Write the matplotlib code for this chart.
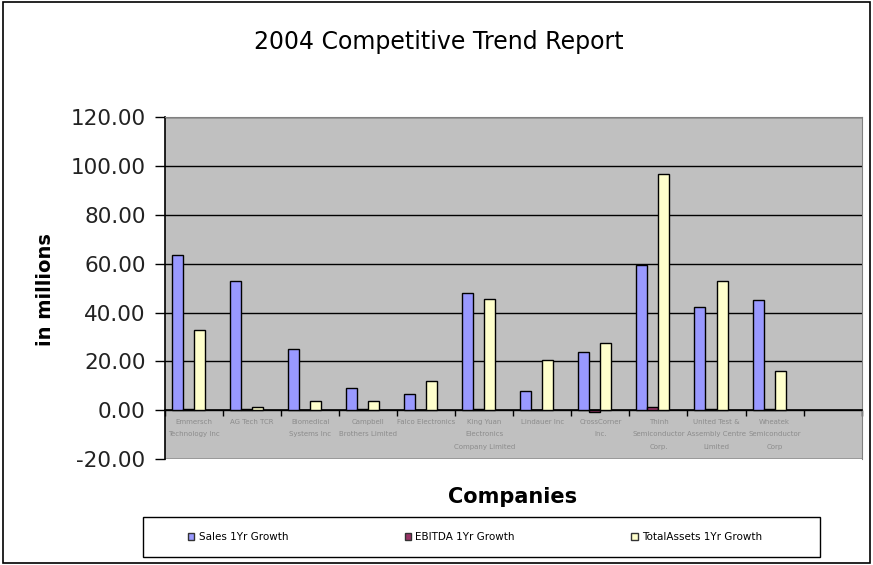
import numpy as np
import matplotlib
matplotlib.use('Agg')
import matplotlib.pyplot as plt
from matplotlib.patches import Rectangle

plt.rcParams['font.family'] = ['DejaVu Sans']

companies = ['Emmersch\nTechnology Inc', 'AG Tech TCR', 'Biomedical\nSystems Inc',
             'Campbell\nBrothers Limited', 'Falco Electronics', 'King Yuan\nElectronics\nCompany Limited',
             'Lindauer Inc', 'CrossCorner\nInc.', 'Thinh\nSemiconductor\nCorp.',
             'United Test &\nAssembly Centre\nLimited', 'Wheatek\nSemiconductor\nCorp', '']
sales = [63.5, 53.0, 25.0, 9.0, 6.5, 47.8, 7.8, 23.7, 59.6, 42.4, 45.0, np.nan]
ebitda = [0.3, 0.5, 0.2, 0.6, 0.2, 0.5, 0.2, -0.8, 1.4, 0.6, 0.6, np.nan]
assets = [32.7, 1.2, 3.9, 3.7, 11.8, 45.7, 20.7, 27.5, 96.9, 52.8, 16.2, np.nan]
series_names = ['Sales 1Yr Growth', 'EBITDA 1Yr Growth', 'TotalAssets 1Yr Growth']
colors = ['#9999FF', '#993366', '#FFFFCC']

fig = plt.figure(figsize=(8.73, 5.65), dpi=100)
# chart area border
fig.patches.append(Rectangle((0.003, 0.004), 0.994, 0.992, transform=fig.transFigure,
                             fill=False, edgecolor='black', linewidth=1.2))

ax = fig.add_axes([0.189, 0.1876, 0.798, 0.605])
ax.set_facecolor('#C0C0C0')
ax.spines['bottom'].set_position(('data', 0))

x = np.arange(len(companies))
w = 0.19
for i, (vals, name, c) in enumerate(zip([sales, ebitda, assets], series_names, colors)):
    ax.bar(x - 0.095 + (i - 1) * w, vals, w, color=c, edgecolor='black', linewidth=1.0,
           label=name, zorder=3)

ax.set_xlim(-0.5, len(companies) - 0.5)
ax.set_ylim(-20, 120)
yt = np.arange(-20, 121, 20)
ax.set_yticks(yt)
ax.set_yticklabels(['%.2f' % v for v in yt])
ax.yaxis.grid(True, color='black', linewidth=1.0, zorder=0)
ax.set_axisbelow(True)

ax.set_xticks(x)
ax.set_xticklabels(companies, linespacing=2.3)
ax.set_xticks(np.arange(-0.5, len(companies), 1.0), minor=True)
ax.tick_params(axis='x', which='major', length=0, pad=6, labelsize=5, labelcolor='#8c8c8c')
ax.tick_params(axis='x', which='minor', length=4, width=1, direction='out')
ax.tick_params(axis='y', length=7, width=1, labelsize=15.5, labelcolor='#222222', pad=7)

ax.spines['bottom'].set_linewidth(1.2)
ax.spines['left'].set_linewidth(1.2)
ax.spines['top'].set_color('#808080')
ax.spines['right'].set_color('#808080')

fig.text(0.503, 0.925, '2004 Competitive Trend Report', ha='center', va='center', fontsize=17)
fig.text(0.052, 0.487, 'in millions', ha='center', va='center', rotation=90,
         fontsize=14, fontweight='bold')
fig.text(0.587, 0.12, 'Companies', ha='center', va='center', fontsize=15, fontweight='bold')

# legend box
fig.patches.append(Rectangle((143 / 873, 1 - 557 / 565), 677 / 873, 40 / 565,
                             transform=fig.transFigure, fill=False, edgecolor='black',
                             linewidth=1.0))
leg = fig.legend(loc='center left', bbox_to_anchor=(183 / 873, 1 - 537 / 565),
                 ncol=3, fontsize=7.5, frameon=False, columnspacing=11.2,
                 handlelength=0.6, handleheight=0.6, handletextpad=0.4, borderpad=0)
for h in leg.legend_handles:
    h.set_edgecolor('#333333')
    h.set_linewidth(1.0)

fig.savefig('out.png', dpi=100)
